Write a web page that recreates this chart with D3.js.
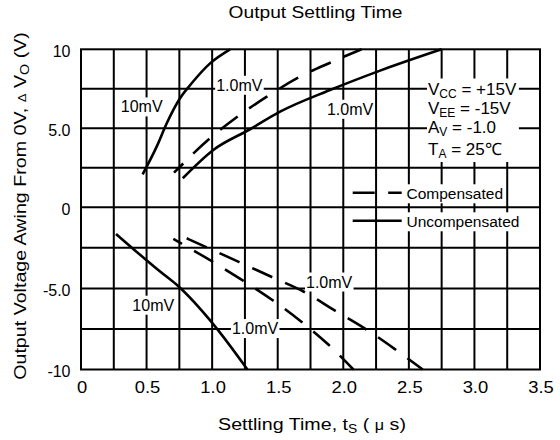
<!DOCTYPE html>
<html>
<head>
<meta charset="utf-8">
<script src="https://cdn.jsdelivr.net/npm/d3@7/dist/d3.min.js"></script>
<style>
body { margin: 0; background: #fff; }
text { font-family: "Liberation Sans", Arial, sans-serif; fill: #000; }
</style>
</head>
<body>
<div id="chart"></div>
<script>
var w = 560;
var h = 440;

// tick values and labels
var xTicks = [0, 0.5, 1.0, 1.5, 2.0, 2.5, 3.0, 3.5];
var xTickLabels = ["0", "0.5", "1.0", "1.5", "2.0", "2.5", "3.0", "3.5"];
var yTicks = [10, 5, 0, -5, -10];
var yTickLabels = ["10", "5.0", "0", "-5.0", "-10"];

// curves: [settling time (us), output swing (V)]
var posUncomp10mV = [[0.47, 2.09], [0.577, 3.84], [0.654, 5.32], [0.755, 6.9], [0.844, 7.85], [0.984, 9.11], [1.137, 10]];
var posComp1mV = [[0.709, 2.19], [0.984, 4.37], [1.192, 5.73], [1.417, 7.0], [1.645, 8.16], [1.899, 9.15], [2.14, 10]];
var posUncomp1mV = [[0.776, 1.84], [1.009, 3.63], [1.289, 4.94], [1.518, 6.05], [1.899, 7.42], [2.281, 8.65], [2.75, 10]];
var negUncomp10mV = [[0.267, -1.64], [0.603, -3.96], [0.73, -4.78], [1.022, -7.34], [1.269, -10]];
var negCompA = [[0.806, -1.91], [1.207, -3.38], [1.455, -4.3], [1.696, -5.19], [1.937, -6.37], [2.166, -7.48], [2.388, -8.71], [2.606, -10]];
var negCompB = [[0.704, -1.95], [1.009, -3.38], [1.233, -4.51], [1.467, -5.76], [1.683, -7.07], [1.886, -8.46], [2.077, -10]];

// curve labels and where they sit (data coords)
var curveLabels = ["10mV", "1.0mV", "1.0mV", "10mV", "1.0mV", "1.0mV"];
var curveLabelPos = [[0.463, 6.37], [1.207, 7.74], [2.052, 6.22], [0.551, -6.02], [1.327, -7.46], [1.892, -4.59]];

var legendLabels = ["Compensated", "Uncompensated"];

var svg = d3.select("#chart")
            .append("svg")
            .attr("width", w)
            .attr("height", h);

var xScale = d3.scaleLinear().domain([0, 3.5]).range([81, 540]);
var yScale = d3.scaleLinear().domain([-10, 0, 10]).range([369.5, 207.3, 49.3]);

var gGrid = svg.append("g");
var gBg = svg.append("g");
var gCurves = svg.append("g");
var gText = svg.append("g");

// grid every 0.25 us and 2.5 V
var xGrid = d3.range(1, 14).map((i) => i * 0.25);
var yGrid = d3.range(-3, 4).map((i) => i * 2.5);
gGrid.selectAll(".vg").data(xGrid).enter().append("line")
    .attr("x1", (d) => xScale(d)).attr("x2", (d) => xScale(d))
    .attr("y1", yScale(10)).attr("y2", yScale(-10))
    .attr("stroke", "#000").attr("stroke-width", 2);
gGrid.selectAll(".hg").data(yGrid).enter().append("line")
    .attr("x1", xScale(0)).attr("x2", xScale(3.5))
    .attr("y1", (d) => yScale(d)).attr("y2", (d) => yScale(d))
    .attr("stroke", "#000").attr("stroke-width", 2);

// curves
var line = d3.line()
    .x((d) => xScale(d[0]))
    .y((d) => yScale(d[1]))
    .curve(d3.curveMonotoneX);

var curves = [
    {data: posUncomp10mV, dash: null, off: 0},
    {data: posComp1mV, dash: "22,14", off: 9},
    {data: posUncomp1mV, dash: null, off: 0},
    {data: negUncomp10mV, dash: null, off: 0},
    {data: negCompA, dash: "22,14", off: 0},
    {data: negCompB, dash: "22,14", off: 12}
];
gCurves.selectAll("path").data(curves).enter().append("path")
    .attr("d", (d) => line(d.data))
    .attr("fill", "none")
    .attr("stroke", "#000")
    .attr("stroke-width", 2.6)
    .attr("stroke-dasharray", (d) => d.dash)
    .attr("stroke-dashoffset", (d) => d.off);

// border
gCurves.append("rect")
    .attr("x", xScale(0)).attr("y", yScale(10))
    .attr("width", xScale(3.5) - xScale(0))
    .attr("height", yScale(-10) - yScale(10))
    .attr("fill", "none").attr("stroke", "#000").attr("stroke-width", 2);

// stretch a text horizontally so it spans the wanted width
function fit(sel, target, x, y, rot) {
    var n = sel.node().getComputedTextLength();
    sel.attr("transform", "translate(" + x + "," + y + ")" + (rot ? " rotate(" + rot + ")" : "") + " scale(" + (target / n) + ",1)");
}

// white box behind a text so the grid breaks there
function bg(node, pad) {
    var b = node.getBBox();
    var m = node.getCTM();
    var t = node.getAttribute("transform");
    gBg.append("rect")
        .attr("x", b.x - pad).attr("y", b.y - pad)
        .attr("width", b.width + 2 * pad).attr("height", b.height + 2 * pad)
        .attr("transform", t)
        .attr("fill", "#fff");
}

// curve labels
gText.selectAll(".cl").data(curveLabels).enter().append("text")
    .attr("class", "cl")
    .attr("x", (d, i) => xScale(curveLabelPos[i][0]))
    .attr("y", (d, i) => yScale(curveLabelPos[i][1]))
    .attr("dy", "0.36em")
    .attr("text-anchor", "middle")
    .style("font-size", "16px")
    .text((d) => d)
    .each(function() { bg(this, 1); });

// annotation block
var ann = gText.append("g");
var annX = 428;
function subLine(y, main, sub, rest) {
    var t = ann.append("text").attr("x", annX).attr("y", y).style("font-size", "17px");
    t.append("tspan").text(main);
    t.append("tspan").attr("dy", 3).style("font-size", "12px").text(sub);
    t.append("tspan").attr("dy", -3).text(rest);
}
subLine(94.5, "V", "CC", " = +15V");
subLine(113.5, "V", "EE", " = -15V");
subLine(133, "A", "V", " = -1.0");
subLine(155, "T", "A", " = 25\u2103");
(function() {
    var b = ann.node().getBBox();
    gBg.append("rect").attr("x", b.x - 1).attr("y", b.y - 1)
        .attr("width", b.width + 3).attr("height", b.height + 2).attr("fill", "#fff");
})();

// legend
var legY = [192.7, 220.7];
gCurves.selectAll(".lg").data(legendLabels).enter().append("line")
    .attr("x1", 352.7).attr("x2", 401.7)
    .attr("y1", (d, i) => legY[i]).attr("y2", (d, i) => legY[i])
    .attr("stroke", "#000").attr("stroke-width", 2.6)
    .attr("stroke-dasharray", (d, i) => i === 0 ? "22,13.5" : null);
gText.selectAll(".lt").data(legendLabels).enter().append("text")
    .attr("x", 406.5)
    .attr("y", (d, i) => legY[i] + 1)
    .attr("dy", "0.36em")
    .style("font-size", "15.5px")
    .text((d) => d)
    .each(function() { bg(this, 1); });

// tick labels
gText.selectAll(".xt").data(xTicks).enter().append("text")
    .style("font-size", "16px")
    .attr("text-anchor", "middle")
    .text((d, i) => xTickLabels[i])
    .each(function(d) {
        var s = d3.select(this);
        s.attr("transform", "translate(" + (xScale(d) + 1) + ",392.5) scale(1.15,1)");
    });
gText.selectAll(".yt").data(yTicks).enter().append("text")
    .style("font-size", "16px")
    .attr("text-anchor", "end")
    .attr("x", 70.5)
    .attr("y", (d) => yScale(d) + 2)
    .attr("dy", "0.36em")
    .text((d, i) => yTickLabels[i]);

// title
var title = gText.append("text")
    .attr("text-anchor", "middle")
    .style("font-size", "17px")
    .text("Output Settling Time");
fit(title, 174, 315.5, 18);

// x axis label
var xl = gText.append("text")
    .attr("text-anchor", "middle")
    .style("font-size", "17px");
xl.append("tspan").text("Settling Time, t");
xl.append("tspan").attr("dy", 3).style("font-size", "12px").text("S");
xl.append("tspan").attr("dy", -3).text(" ( ");
xl.append("tspan").style("font-size", "14px").text("\u03bc");
xl.append("tspan").text(" s)");
fit(xl, 188, 312, 430);

// y axis label
var yl = gText.append("text")
    .attr("text-anchor", "middle")
    .style("font-size", "16.5px");
yl.append("tspan").text("Output Voltage Awing From 0V,  ");
yl.append("tspan").style("font-size", "11px").text("\u0394");
yl.append("tspan").text(" V");
yl.append("tspan").attr("dy", 3).style("font-size", "12px").text("O");
yl.append("tspan").attr("dy", -3).text(" (V)");
fit(yl, 348, 26, 206, -90);
</script>
</body>
</html>
